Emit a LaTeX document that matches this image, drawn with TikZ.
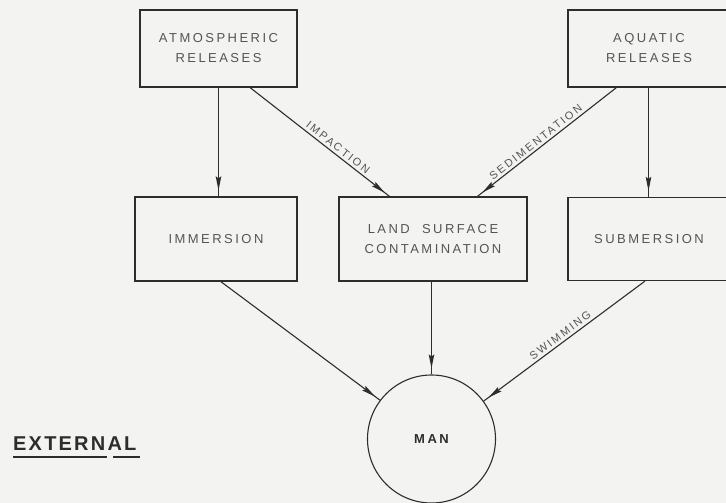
\documentclass[tikz,border=0pt]{standalone}
\usepackage{fontspec}
\newfontfamily\lett{Liberation Sans}[LetterSpace=19]
\newfontfamily\lettb{Liberation Sans}[LetterSpace=11]
\usetikzlibrary{arrows.meta,calc,decorations.markings}
\definecolor{bg}{RGB}{243,243,241}
\definecolor{ink}{RGB}{45,45,45}
\definecolor{txt}{RGB}{85,85,85}
\begin{document}
\begin{tikzpicture}[x=1pt,y=-1pt,
  box/.style={draw=ink, line width=1.3pt, align=center, text=txt,
    font=\lett\fontsize{13}{20}\selectfont, minimum height=#1},
  box/.default=80pt,
  arr/.style={draw=ink, line width=1.1pt, postaction={decorate},
    decoration={markings, mark=at position -6pt with {\arrow{Stealth[length=14pt,width=5.5pt,inset=2pt]}}}},
  lab/.style={font=\lett\fontsize{11}{12}\selectfont, text=txt, sloped, above, inner sep=2.5pt}]
\path[use as bounding box] (0,0) rectangle (726,503);
\fill[bg] (0,0) rectangle (726,503);
\clip (0,0) rectangle (726,503);

\node[box=77pt, minimum width=157pt] (atm) at (218.5,48.5) {ATMOSPHERIC\\RELEASES};
\node[box=77pt, minimum width=162pt] (aqu) at (649,48.5) {AQUATIC\\RELEASES};
\node[box=84pt, minimum width=162pt] (imm) at (216,239) {IMMERSION};
\node[box=84pt, minimum width=188pt] (land) at (433,239) {LAND\ \ SURFACE\\CONTAMINATION};
\node[box=83pt, minimum width=162pt] (sub) at (649,239) {SUBMERSION};
\node[circle, draw=ink, line width=1.1pt, minimum size=128pt, inner sep=0pt,
  text=ink, font=\lett\bfseries\fontsize{13}{14}\selectfont] (man) at (431.5,439) {MAN};

\draw[arr] (atm.south) -- (atm.south |- imm.north);
\draw[arr] ($(atm.south west)!0.70!(atm.south east)$) -- node[lab, pos=0.6] {IMPACTION} ($(land.north west)!0.27!(land.north east)$);
\draw[arr] ($(aqu.south west)!0.30!(aqu.south east)$) -- node[lab, pos=0.55] {SEDIMENTATION} ($(land.north west)!0.735!(land.north east)$);
\draw[arr] ([xshift=-0.5pt]aqu.south) -- ([xshift=-0.5pt]sub.north);
\draw[arr] ($(imm.south west)!0.53!(imm.south east)$) -- (man.143);
\draw[arr] (land.south -| man.north) -- (man.north);
\draw[arr] ($(sub.south west)!0.475!(sub.south east)$) -- node[lab, pos=0.5] {SWIMMING} (man.36);

\node[anchor=base west, inner sep=0pt, text=ink, font=\lettb\bfseries\fontsize{20}{22}\selectfont] (ext) at (13,450) {EXTERNAL};
\draw[ink, line width=1.8pt] ([yshift=-7pt]ext.base west) -- ++(94,0);
\draw[ink, line width=1.8pt] ([yshift=-7pt, xshift=100pt]ext.base west) -- ++(27,0);
\end{tikzpicture}
\end{document}
